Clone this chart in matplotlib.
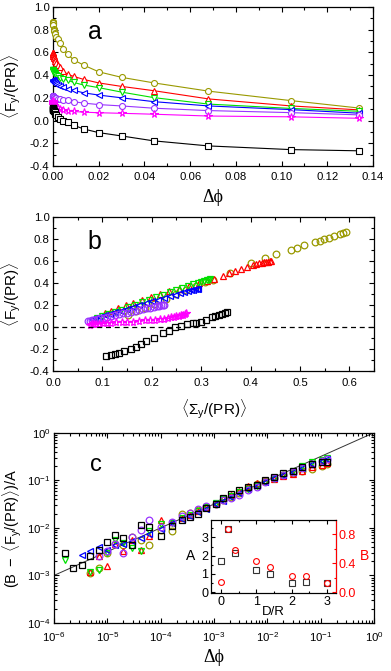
import numpy as np
import matplotlib
matplotlib.use("Agg")
import matplotlib.pyplot as plt
from matplotlib.ticker import MultipleLocator, FixedLocator, NullFormatter, FormatStrFormatter, LogFormatterSciNotation

plt.rcParams['font.family'] = ['Liberation Sans', 'DejaVu Sans']
plt.rcParams['mathtext.fontset'] = 'custom'
plt.rcParams['mathtext.rm'] = 'Liberation Sans'
plt.rcParams['mathtext.it'] = 'Liberation Sans:italic'
plt.rcParams['mathtext.bf'] = 'Liberation Sans:bold'
plt.rcParams['mathtext.sf'] = 'Liberation Sans'
plt.rcParams['axes.unicode_minus'] = False

# ---------------- data ----------------
# packing-fraction increments (shared by panels a and c)
DPHI = [1.6e-6, 2.3e-6, 3.3e-6, 4.8e-6, 6.9e-6, 9.8e-6, 1.4e-5, 2.0e-5, 2.9e-5, 4.2e-5,
        6.0e-5, 1.0e-4, 1.6e-4, 2.5e-4, 3.5e-4, 5.1e-4, 7.1e-4, 1.07e-3, 1.5e-3, 2.1e-3,
        3.0e-3, 4.4e-3, 6.5e-3, 9.1e-3, 1.34e-2, 2.0e-2, 3.0e-2, 4.4e-2, 6.8e-2, 1.04e-1, 1.34e-1]
nan = np.nan
C_OLIVE = [nan, nan, nan, 1.15e-3, 1.45e-3, 3.0e-3, 4.6e-3, 4.3e-3, 6.5e-3, 5.5e-3, 4.4e-3, 9.0e-3,
           8.5e-3, 1.95e-2, 2.1e-2, 2.4e-2, 2.8e-2, 3.2e-2, 3.8e-2, 4.5e-2, 5.4e-2, 7.0e-2, 8.3e-2,
           9.7e-2, 0.110, 0.127, 0.141, 0.155, 0.176, 0.200, 0.219]
C_RED = [nan, nan, nan, 1.2e-3, 2.5e-3, 1.6e-3, 4.5e-3, 3.2e-3, 5.5e-3, 3.4e-3, 6.9e-3, 1.45e-2,
         1.3e-2, 1.6e-2, 1.9e-2, 2.3e-2, 2.8e-2, 3.4e-2, 4.2e-2, 5.0e-2, 6.0e-2, 7.5e-2, 8.8e-2,
         9.6e-2, 0.108, 0.122, 0.136, 0.153, 0.186, 0.214, 0.230]
C_GREEN = [2.1e-3, nan, nan, 1.2e-3, 1.3e-3, 3.0e-3, 5.6e-3, 4.8e-3, 3.8e-3, 3.3e-3, 8.5e-3, 1.2e-2,
           1.25e-2, 1.6e-2, 1.9e-2, 2.3e-2, 2.7e-2, 3.3e-2, 4.0e-2, 4.7e-2, 5.6e-2, 6.6e-2, 7.5e-2,
           9.0e-2, 0.108, 0.126, 0.157, 0.195, 0.240, 0.270, 0.290]
C_BLUE = [nan, nan, 2.7e-3, 3.2e-3, 4.0e-3, 3.4e-3, 4.3e-3, 4.6e-3, 5.3e-3, 6.2e-3, 7.6e-3, 9.4e-3,
          1.25e-2, 1.5e-2, 1.8e-2, 2.2e-2, 2.55e-2, 3.1e-2, 3.7e-2, 4.5e-2, 5.4e-2, 6.4e-2, 7.6e-2,
          9.0e-2, 0.110, 0.129, 0.152, 0.184, 0.220, 0.251, 0.281]
C_PURPLE = [nan, nan, nan, nan, 2.6e-3, 3.3e-3, 4.6e-3, 3.0e-3, 6.5e-3, 9.0e-3, 1.45e-2, 1.05e-2,
            1.3e-2, 1.75e-2, 2.1e-2, 2.5e-2, 2.9e-2, 3.2e-2, 3.8e-2, 4.3e-2, 4.9e-2, 6.2e-2, 7.2e-2,
            9.0e-2, 0.110, 0.132, 0.152, 0.185, 0.220, 0.250, 0.283]
C_BLACK = [3.0e-3, 1.4e-3, 1.65e-3, 2.5e-3, 3.5e-3, 5.1e-3, 7.1e-3, 6.0e-3, 4.3e-3, 1.13e-2, 1.03e-2,
           6.8e-3, 1.07e-2, 1.47e-2, 1.67e-2, 1.95e-2, 2.57e-2, 3.17e-2, 4.17e-2, 5.1e-2, 6.3e-2,
           7.2e-2, 8.0e-2, 9.9e-2, 0.120, 0.141, 0.160, 0.188, 0.217, 0.238, 0.245]
# fit parameters per series
SER_B = {'olive': 0.87, 'red': 0.60, 'green': 0.45, 'blue': 0.36, 'purple': 0.22, 'black': 0.111}
SER_A = {'olive': 3.47, 'red': 2.20, 'green': 1.27, 'blue': 1.05, 'purple': 0.60, 'black': 1.54}
# magenta series (panel a only)
F_MAGENTA = [0.170, 0.168, 0.166, 0.164, 0.162, 0.160, 0.158, 0.155, 0.152, 0.149, 0.146, 0.142,
             0.138, 0.134, 0.130, 0.126, 0.122, 0.117, 0.112, 0.107, 0.101, 0.094, 0.087, 0.080,
             0.074, 0.069, 0.064, 0.056, 0.040, 0.033, 0.020]

# panel b: (<Sigma_y/(PR)>, <F_y/(PR)>)
B_OLIVE_S = [0.152, 0.168, 0.186, 0.205, 0.228, 0.250, 0.270, 0.290, 0.308, 0.324, 0.358, 0.401, 0.430,
             0.452, 0.482, 0.494, 0.509, 0.531, 0.541, 0.549, 0.559, 0.570, 0.581, 0.588, 0.593]
B_OLIVE_F = [0.112, 0.145, 0.180, 0.215, 0.258, 0.300, 0.338, 0.375, 0.408, 0.430, 0.497, 0.582, 0.633,
             0.664, 0.703, 0.724, 0.748, 0.773, 0.785, 0.800, 0.815, 0.833, 0.848, 0.861, 0.867]
B_RED_S = [0.105, 0.118, 0.132, 0.147, 0.163, 0.180, 0.198, 0.216, 0.235, 0.255, 0.275, 0.295, 0.312,
           0.327, 0.344, 0.356, 0.368, 0.381, 0.393, 0.405, 0.412, 0.418, 0.423, 0.428, 0.432, 0.436,
           0.439, 0.442]
B_RED_F = [0.130, 0.152, 0.175, 0.200, 0.222, 0.245, 0.272, 0.300, 0.326, 0.352, 0.378, 0.404, 0.420,
           0.436, 0.467, 0.491, 0.512, 0.530, 0.552, 0.567, 0.576, 0.582, 0.586, 0.590, 0.594, 0.597,
           0.600, 0.602]
B_GREEN_S = [0.090, 0.100, 0.112, 0.125, 0.138, 0.152, 0.166, 0.180, 0.194, 0.208, 0.222, 0.236, 0.250,
             0.262, 0.274, 0.284, 0.293, 0.300, 0.306, 0.311, 0.315, 0.318]
B_GREEN_F = [0.085, 0.100, 0.118, 0.140, 0.160, 0.182, 0.205, 0.228, 0.250, 0.272, 0.295, 0.318, 0.340,
             0.358, 0.375, 0.390, 0.402, 0.412, 0.420, 0.428, 0.434, 0.440]
B_BLUE_S = [0.078, 0.086, 0.095, 0.105, 0.115, 0.126, 0.138, 0.150, 0.162, 0.175, 0.188, 0.200, 0.212,
            0.224, 0.236, 0.247, 0.257, 0.266, 0.273, 0.279, 0.284, 0.288, 0.291, 0.294]
B_BLUE_F = [0.072, 0.083, 0.095, 0.108, 0.122, 0.137, 0.152, 0.168, 0.185, 0.202, 0.219, 0.236, 0.252,
            0.268, 0.284, 0.298, 0.311, 0.322, 0.331, 0.338, 0.343, 0.347, 0.350, 0.352]
B_PURPLE_S = [0.070, 0.074, 0.079, 0.084, 0.090, 0.096, 0.103, 0.110, 0.118, 0.126, 0.134, 0.142, 0.150,
              0.158, 0.166, 0.174, 0.182, 0.190, 0.197, 0.204, 0.210, 0.215, 0.219, 0.222, 0.225]
B_PURPLE_F = [0.056, 0.061, 0.066, 0.070, 0.077, 0.083, 0.089, 0.096, 0.104, 0.111, 0.119, 0.127, 0.134,
              0.142, 0.149, 0.157, 0.165, 0.172, 0.179, 0.186, 0.192, 0.197, 0.201, 0.204, 0.207]
B_MAGENTA_S = [0.075, 0.079, 0.083, 0.088, 0.094, 0.101, 0.109, 0.118, 0.128, 0.139, 0.150, 0.162, 0.174,
               0.186, 0.197, 0.207, 0.216, 0.224, 0.232, 0.239, 0.245, 0.250, 0.255, 0.259, 0.263, 0.267, 0.270]
B_MAGENTA_F = [0.025, 0.030, 0.028, 0.034, 0.032, 0.037, 0.040, 0.038, 0.045, 0.047, 0.051, 0.050, 0.058,
               0.062, 0.066, 0.070, 0.076, 0.080, 0.086, 0.090, 0.095, 0.100, 0.106, 0.110, 0.116, 0.122, 0.128]
B_BLACK_S = [0.108, 0.117, 0.125, 0.133, 0.143, 0.158, 0.169, 0.179, 0.189, 0.204, 0.223, 0.234, 0.248,
             0.260, 0.272, 0.283, 0.290, 0.300, 0.310, 0.321, 0.329, 0.337, 0.343, 0.348, 0.352]
B_BLACK_F = [-0.258, -0.248, -0.239, -0.230, -0.215, -0.194, -0.176, -0.155, -0.124, -0.100, -0.055,
             -0.030, 0.000, 0.015, 0.027, 0.036, 0.040, 0.052, 0.067, 0.091, 0.103, 0.115, 0.124, 0.133, 0.139]

# fit line in panel c
FIT_PREFACTOR = 1.0
FIT_EXPONENT = 0.5

# panel c tick decades
C_XDECADES = [-6, -5, -4, -3, -2, -1, 0]
C_YDECADES = [-4, -3, -2, -1, 0]

# inset
INSET_DR = [0.0, 0.2, 0.4, 1.0, 1.4, 2.0, 2.4, 3.0]
INSET_A = [1.72, 3.47, 2.16, 1.24, 1.02, 0.48, 0.57, 0.49]
INSET_B = [0.14, 0.87, 0.59, 0.43, 0.35, 0.22, 0.22, 0.13]

# ---------------- styles ----------------
COL = {'olive': '#999900', 'red': '#ff0000', 'green': '#00e000', 'blue': '#0000ff',
       'purple': '#9933ff', 'magenta': '#ff00ff', 'black': '#000000'}
MRK = {'olive': 'o', 'red': '^', 'green': 'v', 'blue': '<', 'purple': 'o', 'magenta': '*', 'black': 's'}
CDATA = {'olive': C_OLIVE, 'red': C_RED, 'green': C_GREEN, 'blue': C_BLUE, 'purple': C_PURPLE, 'black': C_BLACK}
BDATA = {'olive': (B_OLIVE_S, B_OLIVE_F), 'red': (B_RED_S, B_RED_F), 'green': (B_GREEN_S, B_GREEN_F),
         'blue': (B_BLUE_S, B_BLUE_F), 'purple': (B_PURPLE_S, B_PURPLE_F),
         'magenta': (B_MAGENTA_S, B_MAGENTA_F), 'black': (B_BLACK_S, B_BLACK_F)}

W, H = 391, 671
fig = plt.figure(figsize=(W / 100, H / 100), dpi=100)


def frac(l, t, r, b):
    return [l / W, 1 - b / H, (r - l) / W, (b - t) / H]


TICK_FS = 8.2
LAB_FS = 11


def style_axes(ax, xpad=3.5):
    ax.tick_params(which='both', direction='in', top=True, right=True, labelsize=TICK_FS,
                   width=0.8)
    ax.tick_params(axis='y', which='both', pad=2.5)
    ax.tick_params(axis='x', which='both', pad=xpad)
    ax.tick_params(which='major', length=3.5)
    ax.tick_params(which='minor', length=2)
    for s in ax.spines.values():
        s.set_linewidth(0.9)


# ---------------- panel a ----------------
axa = fig.add_axes(frac(53, 7, 373, 166))
x = np.array(DPHI)
for name in ['olive', 'red', 'green', 'blue', 'purple', 'magenta', 'black']:
    if name == 'magenta':
        f = np.array(F_MAGENTA)
    else:
        f = SER_B[name] - SER_A[name] * np.array(CDATA[name])
    ms = 5.5 if name == 'magenta' else 4.3
    axa.plot(x, f, '-', color=COL[name], lw=0.8, marker=MRK[name], ms=ms, mfc='white',
             mec=COL[name], mew=0.8, clip_on=False, zorder=3)
axa.set_xlim(0, 0.14)
axa.set_ylim(-0.4, 1.0)
axa.xaxis.set_major_locator(MultipleLocator(0.02))
axa.xaxis.set_minor_locator(MultipleLocator(0.01))
axa.yaxis.set_major_locator(MultipleLocator(0.2))
axa.yaxis.set_minor_locator(MultipleLocator(0.1))
axa.xaxis.set_major_formatter(FormatStrFormatter('%.2f'))
axa.yaxis.set_major_formatter(FormatStrFormatter('%.1f'))
style_axes(axa, xpad=4.5)
axa.set_ylabel(r'$\langle\mathrm{F_y/(PR)}\rangle$', fontsize=LAB_FS)
axa.yaxis.set_label_coords(-0.095, 0.5)
axa.set_xlabel('Δϕ', fontsize=13, family=['Liberation Serif', 'DejaVu Serif'], labelpad=5)
axa.text(0.13, 0.84, 'a', transform=axa.transAxes, fontsize=18, ha='center', va='center')

# ---------------- panel b ----------------
axb = fig.add_axes(frac(53, 217.3, 374, 371.3))
for name in ['olive', 'red', 'green', 'blue', 'purple', 'magenta', 'black']:
    s, f = BDATA[name]
    ms = 5.8 if name == 'magenta' else 4.8
    axb.plot(s, f, ls='none', marker=MRK[name], ms=ms, mfc='none', mec=COL[name], mew=0.9)
axb.axhline(0.0, color='black', lw=0.9, ls=(0, (4, 3)))
axb.set_xlim(0, 0.65)
axb.set_ylim(-0.4, 1.0)
axb.xaxis.set_major_locator(MultipleLocator(0.1))
axb.xaxis.set_minor_locator(MultipleLocator(0.05))
axb.yaxis.set_major_locator(MultipleLocator(0.2))
axb.yaxis.set_minor_locator(MultipleLocator(0.1))
axb.xaxis.set_major_formatter(FormatStrFormatter('%.1f'))
axb.yaxis.set_major_formatter(FormatStrFormatter('%.1f'))
style_axes(axb, xpad=4.5)
axb.set_ylabel(r'$\langle\mathrm{F_y/(PR)}\rangle$', fontsize=LAB_FS)
axb.yaxis.set_label_coords(-0.095, 0.5)
axb.set_xlabel(r'$\langle\mathrm{\Sigma_y/(PR)}\rangle$', fontsize=LAB_FS, labelpad=7)
axb.text(0.13, 0.84, 'b', transform=axb.transAxes, fontsize=18, ha='center', va='center')

# ---------------- panel c ----------------
axc = fig.add_axes(frac(54, 432.7, 374, 623))
axc.set_xscale('log')
axc.set_yscale('log')
axc.set_xlim(1e-6, 1.0)
axc.set_ylim(1e-4, 1.0)
xl = np.array(axc.get_xlim())
axc.plot(xl, FIT_PREFACTOR * xl ** FIT_EXPONENT, color='#333333', lw=0.7, zorder=1)
for name in ['olive', 'red', 'green', 'blue', 'purple', 'black']:
    axc.plot(x, CDATA[name], ls='none', marker=MRK[name], ms=4.8, mfc='none', mec=COL[name], mew=0.9)
for ax_, decs in ((axc.xaxis, C_XDECADES), (axc.yaxis, C_YDECADES)):
    major = [10.0 ** d for d in decs]
    minor = [m * 10.0 ** d for d in decs[:-1] for m in range(2, 10)]
    ax_.set_major_locator(FixedLocator(major))
    ax_.set_minor_locator(FixedLocator(minor))
    ax_.set_major_formatter(LogFormatterSciNotation())
    ax_.set_minor_formatter(NullFormatter())
style_axes(axc, xpad=5.5)
axc.set_ylabel(r'$\mathrm{(B\ -\ \langle F_y/(PR)\rangle)/A}$', fontsize=10.5)
axc.yaxis.set_label_coords(-0.095, 0.5)
axc.set_xlabel('Δϕ', fontsize=13, family=['Liberation Serif', 'DejaVu Serif'], labelpad=3)
axc.text(0.13, 0.83, 'c', transform=axc.transAxes, fontsize=17, ha='center', va='center')

# ---------------- inset ----------------
axi = fig.add_axes(frac(211, 520, 336, 593))
axi.plot(INSET_DR, INSET_A, ls='none', marker='s', ms=4.2, mfc='none', mec='#333333', mew=0.8)
axi.set_xlim(-0.28, 3.26)
axi.set_ylim(-0.04, 3.95)
axi.xaxis.set_major_locator(MultipleLocator(1))
axi.xaxis.set_minor_locator(MultipleLocator(0.5))
axi.yaxis.set_major_locator(MultipleLocator(1))
axi.yaxis.set_minor_locator(MultipleLocator(0.5))
axi.tick_params(which='both', direction='in', top=True, right=False, labelsize=9, width=0.8, pad=2)
axi.tick_params(which='major', length=3)
axi.tick_params(which='minor', length=1.5)
axi.set_xlabel('D/R', fontsize=9.5, labelpad=-1)
axi.set_ylabel('A', fontsize=10, rotation=0, labelpad=8, va='center')
for s in axi.spines.values():
    s.set_linewidth(0.8)
axi2 = axi.twinx()
axi2.plot(INSET_DR, INSET_B, ls='none', marker='o', ms=4.2, mfc='none', mec='#ff0000', mew=0.8)
axi2.set_ylim(-0.01, 1.0)
axi2.yaxis.set_major_locator(MultipleLocator(0.4))
axi2.yaxis.set_minor_locator(MultipleLocator(0.2))
axi2.yaxis.set_major_formatter(FormatStrFormatter('%.1f'))
axi2.tick_params(which='both', direction='in', colors='#ff0000', labelsize=9, width=0.8, pad=2)
axi2.tick_params(which='major', length=3)
axi2.tick_params(which='minor', length=1.5)
axi2.spines['right'].set_color('#ff0000')
axi2.spines['right'].set_linewidth(0.8)
axi2.set_ylabel('B', fontsize=10, color='#ff0000', rotation=0, labelpad=6, va='center')

fig.savefig('out.png', dpi=100)
